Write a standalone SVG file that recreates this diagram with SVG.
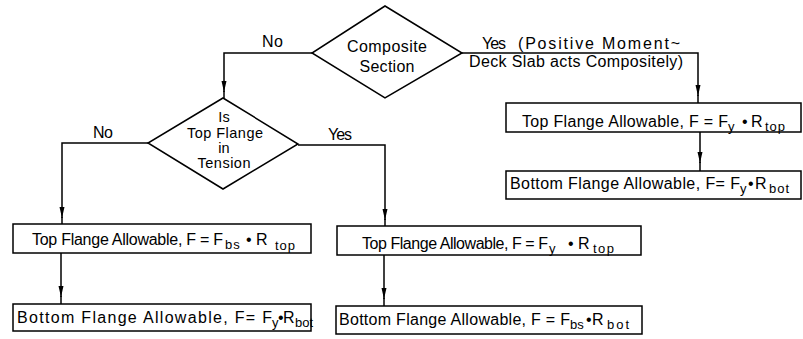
<svg xmlns="http://www.w3.org/2000/svg" width="803" height="339" viewBox="0 0 803 339">
<style>
text{font-family:"Liberation Sans",Arial,sans-serif;font-size:16px;fill:#000}
.sub{font-size:13px}
.dt{font-size:14.5px}
.box{fill:#fff;stroke:#000;stroke-width:1.5}
.dia{fill:#fff;stroke:#000;stroke-width:1.5}
.ln{fill:none;stroke:#000;stroke-width:1.5}
</style>
<defs>
<marker id="ah" markerUnits="userSpaceOnUse" markerWidth="12" markerHeight="8" refX="11" refY="3" orient="auto" viewBox="0 0 12 6">
<path d="M0,0.5 L11,3 L0,5.5 z" fill="#000"/>
</marker>
</defs>
<g id="connectors">
<path class="ln" d="M312,53 H224 V92" marker-end="url(#ah)"/>
<path class="ln" d="M224,91 V98"/>
<path class="ln" d="M462,53 H698 V96" marker-end="url(#ah)"/>
<path class="ln" d="M698,95 V103"/>
<path class="ln" d="M700,132 V163" marker-end="url(#ah)"/>
<path class="ln" d="M700,162 V171"/>
<path class="ln" d="M148,143 H62 V218" marker-end="url(#ah)"/>
<path class="ln" d="M62,217 V224"/>
<path class="ln" d="M298,145 H385 V220" marker-end="url(#ah)"/>
<path class="ln" d="M385,219 V226"/>
<path class="ln" d="M61,253 V297" marker-end="url(#ah)"/>
<path class="ln" d="M61,296 V304"/>
<path class="ln" d="M384,255 V299" marker-end="url(#ah)"/>
<path class="ln" d="M384,298 V306"/>
<text x="262" y="47" textLength="21">No</text>
<text y="49"><tspan x="482" textLength="24">Yes</tspan><tspan x="518" textLength="162">(Positive Moment~</tspan></text>
<text x="469" y="67" textLength="214">Deck Slab acts Compositely)</text>
<text x="93" y="138" textLength="20">No</text>
<text x="328" y="140" textLength="24">Yes</text>
</g>
<g id="composite">
<polygon class="dia" points="385,6 462,53 385,98 312,53"/>
<text x="387" y="52" text-anchor="middle" textLength="80">Composite</text>
<text x="387" y="72" text-anchor="middle" textLength="55">Section</text>
</g>
<g id="tension">
<polygon class="dia" points="223,98 298,144 223,189 148,143"/>
<text class="dt" x="224" y="122" text-anchor="middle">Is</text>
<text class="dt" x="225" y="138" text-anchor="middle" textLength="76">Top Flange</text>
<text class="dt" x="224" y="153" text-anchor="middle">in</text>
<text class="dt" x="224" y="168" text-anchor="middle" textLength="53">Tension</text>
</g>
<g id="right-top">
<rect class="box" x="506" y="103" width="295" height="29"/>
<text y="127"><tspan x="522" textLength="206">Top Flange Allowable, F = F</tspan><tspan class="sub" x="728" y="131">y</tspan><tspan x="742" y="127">•</tspan><tspan x="751" y="127">R</tspan><tspan class="sub" x="765" y="131" letter-spacing="1">top</tspan></text>
</g>
<g id="right-bottom">
<rect class="box" x="506" y="171" width="295" height="28"/>
<text y="189"><tspan x="510" textLength="230">Bottom Flange Allowable, F= F</tspan><tspan class="sub" x="740" y="193">y</tspan><tspan x="748" y="189">•</tspan><tspan x="755" y="189">R</tspan><tspan class="sub" x="769" y="193" letter-spacing="1">bot</tspan></text>
</g>
<g id="left-top">
<rect class="box" x="13" y="224" width="298" height="29"/>
<text y="245"><tspan x="32" textLength="191">Top Flange Allowable, F = F</tspan><tspan class="sub" x="225" y="249" letter-spacing="1">bs</tspan><tspan x="246" y="245">•</tspan><tspan x="256" y="245">R</tspan><tspan class="sub" x="275" y="250" letter-spacing="1">top</tspan></text>
</g>
<g id="left-bottom">
<rect class="box" x="13" y="304" width="298" height="27"/>
<text y="323"><tspan x="17" textLength="255">Bottom Flange Allowable, F= F</tspan><tspan class="sub" x="272" y="327">y</tspan><tspan x="278" y="323">•</tspan><tspan x="283" y="323">R</tspan><tspan class="sub" x="295" y="327">bot</tspan></text>
</g>
<g id="mid-top">
<rect class="box" x="337" y="226" width="304" height="29"/>
<text y="249"><tspan x="362" textLength="186">Top Flange Allowable, F = F</tspan><tspan class="sub" x="549" y="253">y</tspan><tspan x="568" y="249">•</tspan><tspan x="578" y="249">R</tspan><tspan class="sub" x="593" y="253" letter-spacing="1.5">top</tspan></text>
</g>
<g id="mid-bottom">
<rect class="box" x="336" y="306" width="306" height="28"/>
<text y="325"><tspan x="339" textLength="231">Bottom Flange Allowable, F = F</tspan><tspan class="sub" x="570" y="329">bs</tspan><tspan x="586" y="325">•</tspan><tspan x="592" y="325">R</tspan><tspan class="sub" x="607" y="329" letter-spacing="2">bot</tspan></text>
</g>
</svg>
